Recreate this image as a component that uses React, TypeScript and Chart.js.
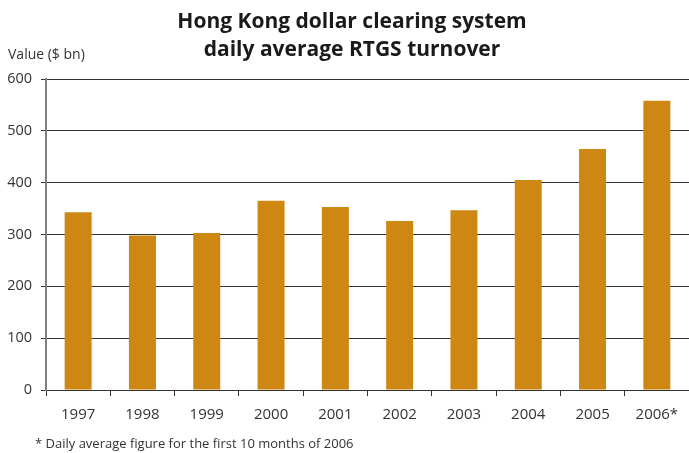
import React, { useEffect, useRef } from "react";
import { Chart, registerables } from "chart.js";

Chart.register(...registerables);

const categories = ["1997", "1998", "1999", "2000", "2001", "2002", "2003", "2004", "2005", "2006*"];
const turnover = [343, 298, 303, 365, 353, 326, 347, 405, 465, 558];
const titleLines = ["Hong Kong dollar clearing system", "daily average RTGS turnover"];
const yAxisLabel = "Value ($ bn)";
const footnote = "* Daily average figure for the first 10 months of 2006";

const FONT = "'Open Sans', 'DejaVu Sans', sans-serif";

const textPlugin = {
  id: "textPlugin",
  afterDraw(chart: any) {
    const ctx = chart.ctx;
    ctx.save();
    ctx.fillStyle = "#1a1a1a";
    ctx.textBaseline = "alphabetic";
    ctx.font = `bold 21px ${FONT}`;
    ctx.textAlign = "center";
    ctx.fillText(titleLines[0], 352, 28);
    ctx.fillText(titleLines[1], 352, 56);
    ctx.font = `14px ${FONT}`;
    ctx.fillStyle = "#333";
    ctx.textAlign = "left";
    ctx.fillText(yAxisLabel, 8, 59);
    ctx.font = `13px ${FONT}`;
    ctx.fillText(footnote, 35, 448);
    ctx.restore();
  },
};

export default function App() {
  const ref = useRef<HTMLCanvasElement | null>(null);
  useEffect(() => {
    document.body.style.margin = "0";
    const chart = new Chart(ref.current as HTMLCanvasElement, {
      type: "bar",
      data: {
        labels: categories,
        datasets: [
          {
            data: turnover,
            backgroundColor: "#CF8714",
            barPercentage: 0.42,
            categoryPercentage: 1,
          },
        ],
      },
      options: {
        animation: false,
        responsive: false,
        devicePixelRatio: 1,
        layout: { padding: { top: 79, right: 0, bottom: 0, left: 0 } },
        plugins: { legend: { display: false }, title: { display: false }, tooltip: { enabled: false } },
        scales: {
          x: {
            afterFit: (s: any) => {
              s.height = 63;
            },
            grid: {
              display: true,
              drawOnChartArea: false,
              drawTicks: true,
              tickLength: 6,
              offset: true,
              color: "#333",
            },
            border: { display: true, color: "#333", width: 1 },
            ticks: { color: "#333", font: { family: FONT, size: 15 }, padding: 10, maxRotation: 0 },
          },
          y: {
            min: 0,
            max: 600,
            afterFit: (s: any) => {
              s.width = 46;
            },
            grid: { color: "#333", lineWidth: 1, tickLength: 5, drawTicks: true },
            border: { display: true, color: "#808080", width: 2 },
            ticks: { stepSize: 100, color: "#333", font: { family: FONT, size: 14.5 }, padding: 9 },
          },
        },
      },
      plugins: [textPlugin],
    });
    return () => chart.destroy();
  }, []);
  return (
    <div style={{ width: 689, height: 453 }}>
      <canvas ref={ref} width={689} height={453} style={{ display: "block" }} />
    </div>
  );
}
